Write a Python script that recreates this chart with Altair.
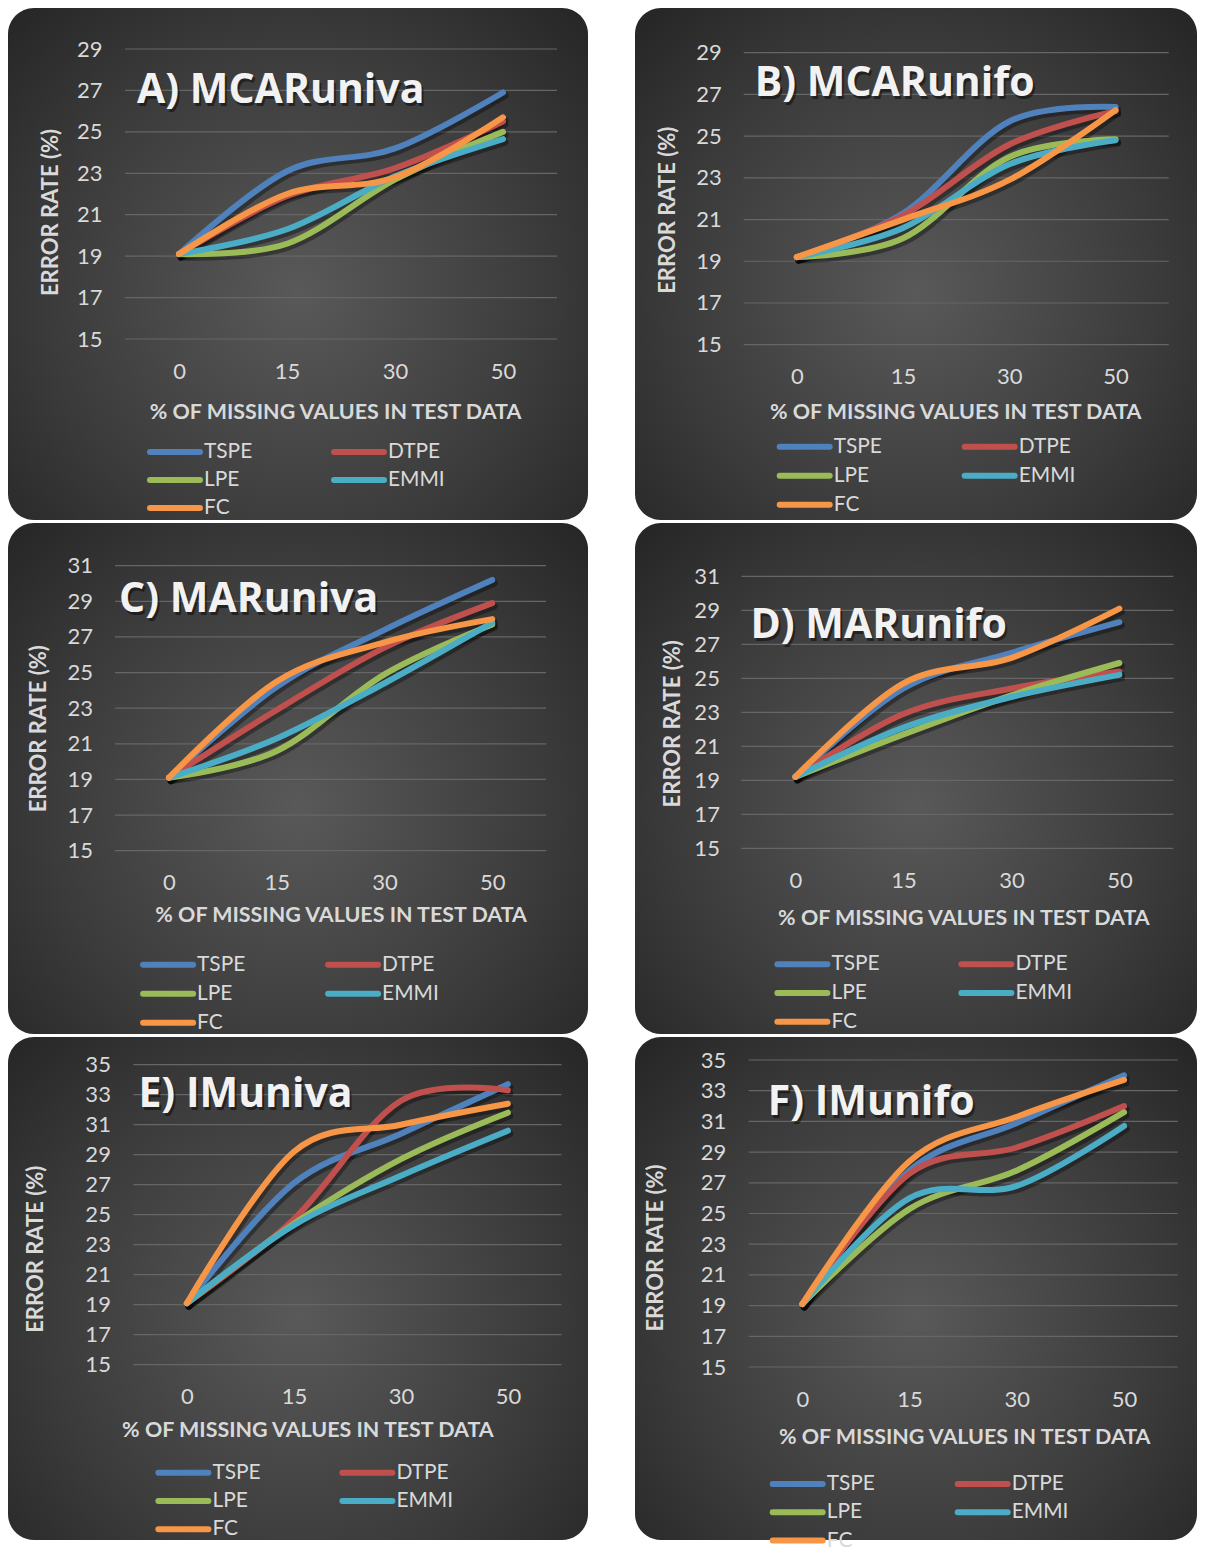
import altair as alt
import pandas as pd

X_LABELS = ["0", "15", "30", "50"]
METHODS = ["TSPE", "DTPE", "LPE", "EMMI", "FC"]
COLORS = ["#4F81BD", "#C0504D", "#9BBB59", "#4BACC6", "#F79646"]
LEG_COL = [0, 1, 0, 1, 0]
LEG_ROW = [0, 0, 1, 1, 2]

# A) MCARuniva
A_TSPE = [19.1, 23.1, 24.2, 26.9]
A_DTPE = [19.1, 21.9, 23.25, 25.5]
A_LPE = [19.1, 19.6, 22.7, 25.0]
A_EMMI = [19.1, 20.3, 22.85, 24.65]
A_FC = [19.1, 22.0, 22.8, 25.7]
# B) MCARunifo
B_TSPE = [19.2, 21.3, 25.7, 26.4]
B_DTPE = [19.2, 21.2, 24.6, 26.2]
B_LPE = [19.2, 20.1, 24.0, 24.85]
B_EMMI = [19.2, 20.6, 23.65, 24.8]
B_FC = [19.2, 21.0, 22.9, 26.25]
# C) MARuniva
C_TSPE = [19.1, 24.2, 27.4, 30.2]
C_DTPE = [19.1, 22.9, 26.4, 28.9]
C_LPE = [19.1, 20.6, 24.9, 27.7]
C_EMMI = [19.1, 21.3, 24.4, 27.8]
C_FC = [19.1, 24.5, 26.7, 28.0]
# D) MARunifo
D_TSPE = [19.2, 24.4, 26.5, 28.3]
D_DTPE = [19.2, 22.9, 24.4, 25.4]
D_LPE = [19.2, 21.7, 24.0, 25.9]
D_EMMI = [19.2, 22.1, 23.9, 25.2]
D_FC = [19.2, 24.7, 26.2, 29.1]
# E) IMuniva
E_TSPE = [19.1, 27.1, 30.4, 33.7]
E_DTPE = [19.1, 24.7, 32.6, 33.3]
E_LPE = [19.1, 24.4, 28.7, 31.8]
E_EMMI = [19.1, 24.3, 27.6, 30.6]
E_FC = [19.1, 29.2, 31.0, 32.4]
# F) IMunifo
F_TSPE = [19.1, 27.8, 30.9, 34.0]
F_DTPE = [19.1, 27.6, 29.3, 32.0]
F_LPE = [19.1, 25.3, 27.8, 31.6]
F_EMMI = [19.1, 26.0, 26.8, 30.7]
F_FC = [19.1, 28.4, 31.3, 33.7]

TITLES = ["A) MCARuniva", "B) MCARunifo", "C) MARuniva", "D) MARunifo", "E) IMuniva", "F) IMunifo"]
SERIES = [
    [A_TSPE, A_DTPE, A_LPE, A_EMMI, A_FC],
    [B_TSPE, B_DTPE, B_LPE, B_EMMI, B_FC],
    [C_TSPE, C_DTPE, C_LPE, C_EMMI, C_FC],
    [D_TSPE, D_DTPE, D_LPE, D_EMMI, D_FC],
    [E_TSPE, E_DTPE, E_LPE, E_EMMI, E_FC],
    [F_TSPE, F_DTPE, F_LPE, F_EMMI, F_FC],
]
Y_MAX = [29, 29, 31, 31, 35, 35]

COL_W = [580, 562]
ROW_H = [512, 511, 503]

# plot rectangle inside panel (L, T, w, h), title/legend placement relative to plot
# ly = centre of first legend row below plot top, rp = legend row pitch
GEOM = [
    dict(L=117, T=41, w=432, h=290, tx=12, ty=54, lp=23,
         ytx=-68, yty=18, xty=61, xtx=-6, lx=22, ly=403, rp=28, pitch=184, sym=56),
    dict(L=108.7, T=44.7, w=425, h=292, tx=11, ty=43, lp=22.5,
         ytx=-69, yty=11, xty=56, xtx=-1, lx=33, ly=394, rp=29, pitch=185, sym=56),
    dict(L=107.1, T=42.7, w=431, h=285, tx=4, ty=46, lp=22.5,
         ytx=-70, yty=20, xty=53, xtx=10, lx=25, ly=399, rp=29, pitch=185, sym=56),
    dict(L=106.4, T=53.3, w=432, h=272, tx=9, ty=62, lp=22,
         ytx=-62, yty=11, xty=58, xtx=6, lx=33, ly=388, rp=28.7, pitch=184, sym=56),
    dict(L=125.4, T=27.7, w=428, h=300, tx=5, ty=42, lp=23,
         ytx=-91, yty=34, xty=54, xtx=-40, lx=22, ly=408, rp=28.3, pitch=184, sym=56),
    dict(L=113.7, T=23, w=429, h=307, tx=19, ty=55, lp=23,
         ytx=-86, yty=34, xty=58, xtx=1, lx=21, ly=424, rp=28.3, pitch=185, sym=56),
]
S = 1.1

TXT = "#d9d9d9"
GRAD = alt.RadialGradient(
    gradient="radial",
    stops=[
        alt.GradientStop(color="#595959", offset=0),
        alt.GradientStop(color="#3b3b3b", offset=0.55),
        alt.GradientStop(color="#1f1f1f", offset=1),
    ],
    x1=0.5, y1=0.55, x2=0.5, y2=0.55, r1=0, r2=0.78,
)
COLOR_SCALE = alt.Scale(domain=METHODS, range=COLORS)


def panel(i):
    g = GEOM[i]
    s = S
    PW = COL_W[i % 2]
    PH = ROW_H[i // 2]
    L, T, W, H = g["L"], g["T"], g["w"], g["h"]
    Bm = PH - T - H
    rows = []
    for m, vals in zip(METHODS, SERIES[i]):
        for xl, v in zip(X_LABELS, vals):
            rows.append({"pct": xl, "err": v, "method": m})
    df = pd.DataFrame(rows)
    ymax = Y_MAX[i]
    ticks = list(range(15, ymax + 1, 2))

    xscale = alt.Scale(type="point", padding=0.5, range=[L, L + W], domain=X_LABELS)
    yscale = alt.Scale(domain=[15, ymax], nice=False, zero=False, range=[T + H, T])

    xaxis = alt.Axis(
        offset=-Bm, labelAngle=0, domain=False, ticks=False, grid=False, zindex=1,
        labelFont="Lato", labelFontSize=20 * s, labelColor=TXT, labelPadding=22,
        titleFont="Lato", titleFontWeight="bold", titleFontSize=19.5 * s, titleColor=TXT,
        titleX=L + W / 2 + g["xtx"], titleY=g["xty"] + 1,
        titleAlign="center", titleBaseline="top",
    )
    yaxis = alt.Axis(
        offset=-L, values=ticks, domain=False, ticks=False, grid=False, zindex=1,
        labelFont="Lato", labelFontSize=20 * s, labelColor=TXT, labelPadding=g["lp"],
        titleFont="Lato", titleFontWeight="bold", titleFontSize=20 * s, titleColor=TXT,
        titleAngle=270, titleAlign="center", titleBaseline="alphabetic",
        titleX=g["ytx"], titleY=T + H / 2 + g["yty"],
    )
    x_ax = alt.X("pct:O", sort=X_LABELS, scale=xscale,
                 title="% OF MISSING VALUES IN TEST DATA", axis=xaxis)
    y_ax = alt.Y("err:Q", scale=yscale, title="ERROR RATE (%)", axis=yaxis)
    x_na = alt.X("pct:O", sort=X_LABELS, scale=xscale, axis=None)
    y_na = alt.Y("err:Q", scale=yscale, axis=None)

    bg = alt.Chart(pd.DataFrame({"k": [0]})).mark_rect(
        fill=GRAD, cornerRadius=26
    ).encode(
        x=alt.value(0), x2=alt.value(PW), y=alt.value(0), y2=alt.value(PH),
    )

    grid = alt.Chart(pd.DataFrame({"err": ticks})).mark_rule(
        color="#666666", strokeWidth=1.2
    ).encode(
        y=y_na, x=alt.value(L), x2=alt.value(L + W),
    )

    base = alt.Chart(df)
    shadow = base.mark_line(
        interpolate="cardinal", strokeWidth=7, color="#000000", opacity=0.35,
        xOffset=2, yOffset=3, strokeCap="round", strokeJoin="round",
    ).encode(x=x_na, y=y_na, detail="method:N")

    lines = base.mark_line(
        interpolate="cardinal", strokeWidth=6, strokeCap="round", strokeJoin="round",
    ).encode(
        x=x_ax, y=y_ax,
        color=alt.Color("method:N", sort=METHODS, scale=COLOR_SCALE, legend=None),
    )

    # legend drawn from the series names, laid out by its own col/row scales
    sym = g["sym"]
    ldf = pd.DataFrame({"method": METHODS, "col": LEG_COL, "row": LEG_ROW})
    lx0 = L + g["lx"]
    ly0 = T + g["ly"]
    lxs = alt.Scale(domain=[0, 1], range=[lx0, lx0 + g["pitch"]])
    lys = alt.Scale(domain=[0, 2], range=[ly0, ly0 + 2 * g["rp"]])
    leg_sym = alt.Chart(ldf).mark_rule(
        strokeWidth=6, strokeCap="round", xOffset=3, x2Offset=sym - 3,
    ).encode(
        x=alt.X("col:Q", scale=lxs, axis=None),
        x2="col:Q",
        y=alt.Y("row:Q", scale=lys, axis=None),
        color=alt.Color("method:N", sort=METHODS, scale=COLOR_SCALE, legend=None),
    )
    leg_txt = alt.Chart(ldf).mark_text(
        align="left", baseline="middle", dx=sym + 1, font="Lato",
        fontSize=19 * s, color=TXT,
    ).encode(
        x=alt.X("col:Q", scale=lxs, axis=None),
        y=alt.Y("row:Q", scale=lys, axis=None),
        text="method:N",
    )

    tdf = pd.DataFrame({"t": [TITLES[i]]})
    tshadow = alt.Chart(tdf).mark_text(
        font="Open Sans", fontWeight="bold", fontSize=41, color="#000000",
        opacity=0.45, align="left", baseline="alphabetic", dx=2, dy=3,
    ).encode(text="t:N", x=alt.value(L + g["tx"]), y=alt.value(T + g["ty"]))
    ttext = alt.Chart(tdf).mark_text(
        font="Open Sans", fontWeight="bold", fontSize=41, color="#f2f2f2",
        align="left", baseline="alphabetic",
    ).encode(text="t:N", x=alt.value(L + g["tx"]), y=alt.value(T + g["ty"]))

    return alt.layer(
        bg, grid, shadow, lines, leg_sym, leg_txt, tshadow, ttext
    ).resolve_scale(
        x="independent", y="independent"
    ).properties(width=PW, height=PH)


chart = alt.concat(
    *[panel(i) for i in range(6)], columns=2, spacing={"row": 3, "column": 47}
).properties(
    align="each", padding=0, background="#ffffff"
).resolve_scale(
    x="independent", y="independent"
).configure_view(stroke=None)

chart.save("out.html", embed_options={"renderer": "svg", "actions": False})
